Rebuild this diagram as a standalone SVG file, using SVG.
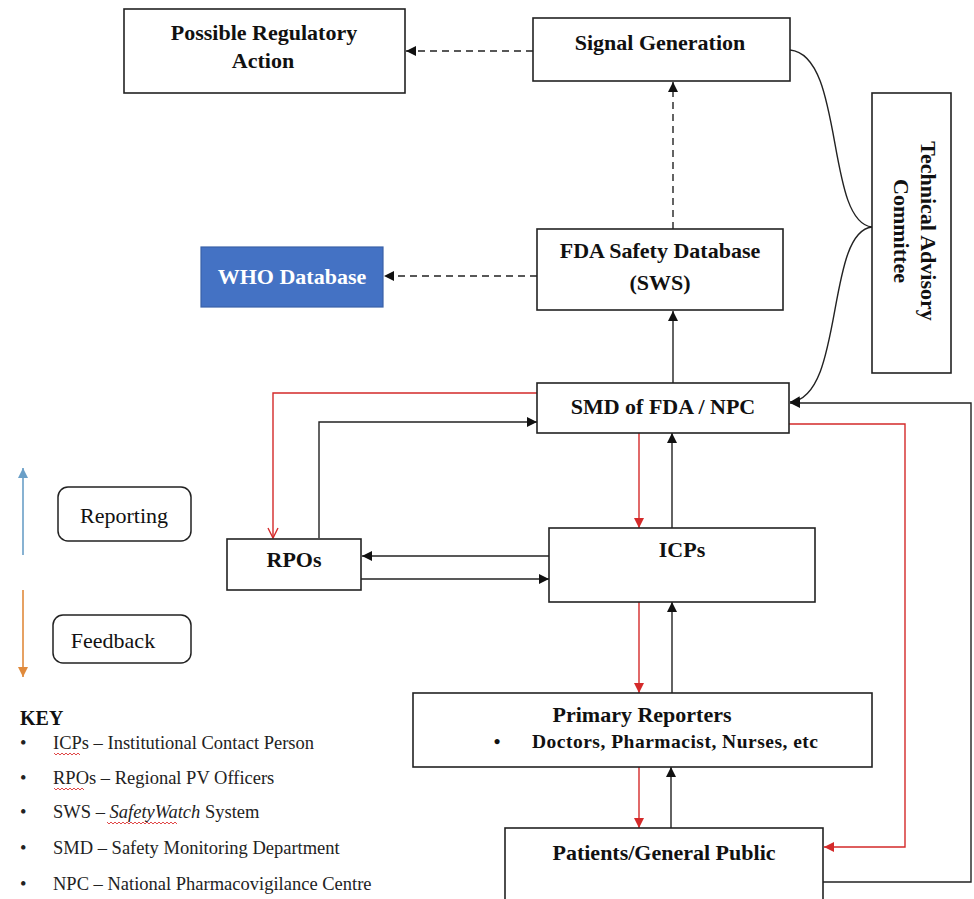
<svg xmlns="http://www.w3.org/2000/svg" width="974" height="899" viewBox="0 0 974 899">
<style>
.box{fill:#fff;stroke:#222;stroke-width:1.6}
.t{font-family:"Liberation Serif","Times New Roman",serif;font-weight:bold;font-size:22px;fill:#111;text-anchor:middle}
.k{font-family:"Liberation Serif","Times New Roman",serif;font-size:18.5px;fill:#222}
.c{fill:none;stroke:#222;stroke-width:1.4}
.d{fill:none;stroke:#222;stroke-width:1.4;stroke-dasharray:7 5}
.r{fill:none;stroke:#d42a2a;stroke-width:1.4}
.sq{fill:none;stroke:#d33;stroke-width:0.9}
</style>
<defs>
<marker id="ab" markerUnits="userSpaceOnUse" markerWidth="10" markerHeight="10" refX="10" refY="5" orient="auto"><path d="M0,0 L10,5 L0,10 z" fill="#111"/></marker>
<marker id="ar" markerUnits="userSpaceOnUse" markerWidth="10" markerHeight="10" refX="10" refY="5" orient="auto"><path d="M0,0 L10,5 L0,10 z" fill="#d42a2a"/></marker>
<marker id="ao" markerUnits="userSpaceOnUse" markerWidth="12" markerHeight="12" refX="11" refY="6" orient="auto"><path d="M1,1 L11,6 L1,11" fill="none" stroke="#d42a2a" stroke-width="1.4"/></marker>
<marker id="abl" markerUnits="userSpaceOnUse" markerWidth="10" markerHeight="10" refX="10" refY="5" orient="auto"><path d="M0,0 L10,5 L0,10 z" fill="#6a9fc7"/></marker>
<marker id="aor" markerUnits="userSpaceOnUse" markerWidth="10" markerHeight="10" refX="10" refY="5" orient="auto"><path d="M0,0 L10,5 L0,10 z" fill="#e08a3c"/></marker>
</defs>

<g id="connectors">
<path class="d" d="M533,51 L406,51" marker-end="url(#ab)"/>
<path class="d" d="M673,229 L673,82" marker-end="url(#ab)"/>
<path class="d" d="M537,276 L384,276" marker-end="url(#ab)"/>
<path class="c" d="M673,383 L673,311" marker-end="url(#ab)"/>
<path class="c" d="M790,50 C845,55 825,222 872,227"/>
<path class="c" d="M872,227 C825,232 845,398 790,402" marker-end="url(#ab)"/>
<path class="c" d="M823,882 L971,882 L971,403 L790,403" marker-end="url(#ab)"/>
<path class="r" d="M789,424 L905,424 L905,847 L824,847" marker-end="url(#ar)"/>
<path class="r" d="M537,393 L273,393 L273,538" marker-end="url(#ao)"/>
<path class="c" d="M319,538 L319,422 L537,422" marker-end="url(#ab)"/>
<path class="c" d="M549,556 L362,556" marker-end="url(#ab)"/>
<path class="c" d="M361,579 L549,579" marker-end="url(#ab)"/>
<path class="r" d="M639,433 L639,528" marker-end="url(#ar)"/>
<path class="c" d="M672,528 L672,433" marker-end="url(#ab)"/>
<path class="r" d="M639,602 L639,693" marker-end="url(#ar)"/>
<path class="c" d="M672,693 L672,602" marker-end="url(#ab)"/>
<path class="r" d="M639,767 L639,828" marker-end="url(#ar)"/>
<path class="c" d="M671,828 L671,767" marker-end="url(#ab)"/>
</g>

<g id="possible-regulatory-action">
<rect class="box" x="124" y="9" width="281" height="84"/>
<text class="t" x="264" y="40">Possible Regulatory</text>
<text class="t" x="263" y="68">Action</text>
</g>
<g id="signal-generation">
<rect class="box" x="533" y="18" width="257" height="63"/>
<text class="t" x="660" y="50">Signal Generation</text>
</g>
<g id="technical-advisory-committee">
<rect class="box" x="872" y="93" width="79" height="280"/>
<text class="t" transform="translate(921,231) rotate(90)" x="0" y="0">Technical Advisory</text>
<text class="t" transform="translate(894,231) rotate(90)" x="0" y="0">Committee</text>
</g>
<g id="fda-safety-database">
<rect class="box" x="537" y="229" width="246" height="81"/>
<text class="t" x="660" y="258">FDA Safety Database</text>
<text class="t" x="660" y="290">(SWS)</text>
</g>
<g id="who-database">
<rect x="201" y="247" width="182" height="60" fill="#4472c4" stroke="#3a62a8" stroke-width="1.2"/>
<text class="t" x="292" y="284" style="fill:#fff">WHO Database</text>
</g>
<g id="smd-npc">
<rect class="box" x="537" y="383" width="252" height="50"/>
<text class="t" x="663" y="414">SMD of FDA / NPC</text>
</g>
<g id="rpos">
<rect class="box" x="227" y="539" width="134" height="51"/>
<text class="t" x="294" y="567">RPOs</text>
</g>
<g id="icps">
<rect class="box" x="549" y="528" width="266" height="74"/>
<text class="t" x="682" y="557">ICPs</text>
</g>
<g id="primary-reporters">
<rect class="box" x="413" y="693" width="459" height="74"/>
<text class="t" x="642" y="722">Primary Reporters</text>
<text class="t" x="497" y="748" style="font-size:19px">•</text>
<text class="t" x="675" y="748" style="font-size:19.5px" textLength="286" lengthAdjust="spacing">Doctors, Pharmacist, Nurses, etc</text>
</g>
<g id="patients-general-public">
<rect class="box" x="505" y="828" width="318" height="90"/>
<text class="t" x="664" y="860">Patients/General Public</text>
</g>

<g id="legend">
<path d="M23,555 L23,468" stroke="#6a9fc7" stroke-width="1.6" fill="none" marker-end="url(#abl)"/>
<path d="M23,590 L23,677" stroke="#e08a3c" stroke-width="1.6" fill="none" marker-end="url(#aor)"/>
<rect x="58" y="487" width="133" height="54" rx="10" fill="#fff" stroke="#222" stroke-width="1.5"/>
<text class="t" x="124" y="523" style="font-weight:normal">Reporting</text>
<rect x="53" y="615" width="138" height="48" rx="10" fill="#fff" stroke="#222" stroke-width="1.5"/>
<text class="t" x="113" y="648" style="font-weight:normal">Feedback</text>
</g>

<g id="key">
<text class="t" x="20" y="725" style="text-anchor:start;font-size:20px">KEY</text>
<text class="k" x="20" y="749">•</text>
<text class="k" x="53" y="749">ICPs – Institutional Contact Person</text>
<text class="k" x="20" y="784">•</text>
<text class="k" x="53" y="784">RPOs – Regional PV Officers</text>
<text class="k" x="20" y="818">•</text>
<text class="k" x="53" y="818">SWS – <tspan font-style="italic">SafetyWatch</tspan> System</text>
<text class="k" x="20" y="854">•</text>
<text class="k" x="53" y="854">SMD – Safety Monitoring Department</text>
<text class="k" x="20" y="890">•</text>
<text class="k" x="53" y="890">NPC – National Pharmacovigilance Centre</text>
<path class="sq" d="M54,753 l2,2 l2,-2 l2,2 l2,-2 l2,2 l2,-2 l2,2 l2,-2 l2,2 l2,-2 l2,2 l2,-2 l2,2"/>
<path class="sq" d="M54,788 l2,2 l2,-2 l2,2 l2,-2 l2,2 l2,-2 l2,2 l2,-2 l2,2 l2,-2 l2,2 l2,-2 l2,2 l2,-2 l2,2"/>
<path class="sq" d="M107,822 l2,2 l2,-2 l2,2 l2,-2 l2,2 l2,-2 l2,2 l2,-2 l2,2 l2,-2 l2,2 l2,-2 l2,2 l2,-2 l2,2 l2,-2 l2,2 l2,-2 l2,2 l2,-2 l2,2 l2,-2 l2,2 l2,-2 l2,2 l2,-2 l2,2 l2,-2 l2,2 l2,-2 l2,2 l2,-2 l2,2 l2,-2 l2,2"/>
</g>
</svg>
